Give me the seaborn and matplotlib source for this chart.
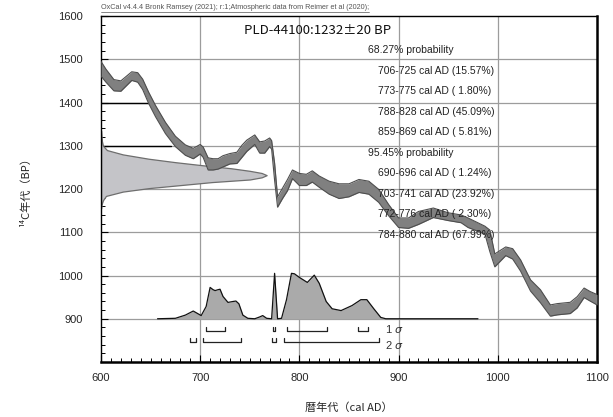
import numpy as np
import pandas as pd
import seaborn as sns
import matplotlib.pyplot as plt
from matplotlib.ticker import MultipleLocator
from matplotlib.lines import Line2D

# calibration curve (IntCal20): year AD, centre BP, half width
curve_year = [600, 605, 613, 620, 631, 637, 642, 648, 655, 665, 675, 685, 693, 700, 703,
              708, 713, 718, 723, 730, 737, 742, 747, 755, 760, 765, 770, 772, 775, 778,
              783, 788, 793, 800, 807, 813, 820, 830, 840, 850, 860, 870, 880, 890, 900,
              910, 920, 935, 950, 963, 970, 987, 992, 997, 1008, 1015, 1023, 1033, 1043,
              1053, 1060, 1073, 1080, 1087, 1093, 1100]
curve_bp = [1478, 1462, 1440, 1438, 1461, 1458, 1442, 1411, 1380, 1341, 1310, 1290, 1282, 1292, 1285,
            1258, 1257, 1258, 1264, 1270, 1272, 1287, 1300, 1314, 1296, 1297, 1308, 1302, 1240, 1170,
            1190, 1209, 1234, 1222, 1221, 1229, 1217, 1203, 1195, 1197, 1207, 1203, 1184, 1151, 1122,
            1121, 1133, 1145, 1136, 1131, 1122, 1105, 1080, 1035, 1056, 1050, 1023, 977, 952,
            919, 922, 925, 938, 960, 952, 944]
curve_err = [17, 15, 13, 12, 10, 11, 12, 13, 13, 13, 12, 12, 12, 11, 12,
             14, 13, 12, 13, 12, 13, 14, 13, 11, 13, 14, 10, 10, 20, 12,
             12, 13, 10, 14, 13, 13, 13, 15, 17, 15, 15, 15, 15, 13, 11,
             12, 15, 11, 9, 9, 11, 9, 25, 15, 10, 12, 13, 13, 15,
             13, 13, 13, 13, 11, 11, 12]

# measured date on the y axis
gauss_bp = [1335, 1320, 1310, 1300, 1290, 1280, 1270, 1262, 1255, 1248, 1242, 1237, 1232,
            1227, 1222, 1216, 1209, 1202, 1194, 1184, 1174, 1164, 1155]
gauss_w = [0, 0.5, 1, 2, 6, 22, 48, 75, 102, 131, 150, 162, 167,
           162, 150, 112, 80, 48, 22, 5, 2, 0.5, 0]

# calibrated distribution (relative)
dist_year = [657, 675, 685, 693, 697, 701, 706, 710, 713, 715, 718, 720, 723, 728, 733, 736,
             739, 743, 748, 755, 760, 763, 767, 772, 775, 778, 782, 787, 792, 795, 800, 808,
             815, 820, 827, 833, 842, 853, 862, 868, 875, 882, 887, 980]
dist_p = [0, 0.01, 0.08, 0.17, 0.12, 0.07, 0.27, 0.69, 0.64, 0.62, 0.64, 0.65, 0.49, 0.36, 0.38, 0.39,
          0.33, 0.08, 0.01, 0, 0.04, 0.07, 0.01, 0, 1.0, 0, 0.01, 0.42, 1.0, 0.99, 0.91, 0.8,
          0.96, 0.78, 0.38, 0.22, 0.18, 0.29, 0.42, 0.42, 0.22, 0.03, 0, 0]

sig1 = [(706, 725), (773, 775), (788, 828), (859, 869)]
sig2 = [(690, 696), (703, 741), (772, 776), (784, 880)]
sig1_text = ["706-725 cal AD (15.57%)", "773-775 cal AD ( 1.80%)",
             "788-828 cal AD (45.09%)", "859-869 cal AD ( 5.81%)"]
sig2_text = ["690-696 cal AD ( 1.24%)", "703-741 cal AD (23.92%)",
             "772-776 cal AD ( 2.30%)", "784-880 cal AD (67.99%)"]

ref_levels = [1400, 1300]
ref_ends = [652, 671]

sns.set_style("ticks")
plt.rcParams['font.family'] = ['Liberation Sans', 'Noto Sans CJK JP', 'DejaVu Sans']
cjk = ['Noto Sans CJK JP', 'DejaVu Sans']

fig = plt.figure(figsize=(6.13, 4.17), dpi=100)
ax = fig.add_axes([101 / 613, 1 - 362 / 417, 496 / 613, 346 / 417])
ax.set_xlim(600, 1100)
ax.set_ylim(800, 1600)

ax.set_axisbelow(True)
for v in range(700, 1100, 100):
    ax.axvline(v, color='#9c9c9c', lw=0.9, zorder=0)
for v in range(900, 1600, 100):
    ax.axhline(v, color='#9c9c9c', lw=0.9, zorder=0)
for lv, end in zip(ref_levels, ref_ends):
    ax.plot([600, end], [lv, lv], color='black', lw=1.0, zorder=1)

# gaussian of the measurement
ax.fill_betweenx(gauss_bp, 600, 600 + np.array(gauss_w), facecolor='#c4c4c8',
                 edgecolor='#6e6e6e', lw=0.9, zorder=2)

# calibration curve band
cdf = pd.DataFrame({"year": curve_year, "bp": curve_bp, "err": curve_err})
cdf["lo"] = cdf["bp"] - cdf["err"]
cdf["hi"] = cdf["bp"] + cdf["err"]
ax.fill_between(cdf["year"], cdf["lo"], cdf["hi"], color='#808080', lw=0, zorder=3)
sns.lineplot(data=cdf, x="year", y="lo", color='#4e4e4e', lw=0.8, ax=ax, zorder=3)
sns.lineplot(data=cdf, x="year", y="hi", color='#4e4e4e', lw=0.8, ax=ax, zorder=3)

# calibrated distribution
base = 900
dist_h = 105
ddf = pd.DataFrame({"year": dist_year, "y": base + np.array(dist_p) * dist_h})
ax.fill_between(ddf["year"], base, ddf["y"], color='#aaaaaa', lw=0, zorder=4)
sns.lineplot(data=ddf, x="year", y="y", color='#111111', lw=0.9, ax=ax, zorder=4)

# range brackets
for ranges, top, bot in [(sig1, 881, 872), (sig2, 856, 847)]:
    for a, b in ranges:
        ax.plot([a, a, b, b], [top, bot, bot, top], color='#222222', lw=0.9, zorder=4)
ax.text(886, 876, r'1 $\sigma$', fontsize=8, color='#333333', va='center')
ax.text(886, 840, r'2 $\sigma$', fontsize=8, color='#333333', va='center')

# text block
ax.text(818, 1567, "PLD-44100:1232\u00b120 BP", fontsize=9.5, ha='center', va='center',
        family=cjk, color='#111111', zorder=6)
step = 47.4
y = 1521
for head, lines in [("68.27% probability", sig1_text), ("95.45% probability", sig2_text)]:
    ax.text(869, y, head, fontsize=7.5, va='center', color='#222222', zorder=6)
    y -= step
    for s in lines:
        ax.text(879, y, s, fontsize=7.5, va='center', color='#222222', zorder=6)
        y -= step

ax.set_xticks(range(600, 1101, 100))
ax.set_yticks(range(900, 1601, 100))
ax.xaxis.set_minor_locator(MultipleLocator(10))
ax.yaxis.set_minor_locator(MultipleLocator(20))
ax.tick_params(which='both', direction='in', top=False, right=False, color='black')
ax.tick_params(which='major', length=5, width=0.8, labelsize=8)
ax.tick_params(axis='x', which='major', pad=8)
ax.tick_params(axis='y', which='major', pad=13)
ax.tick_params(which='minor', length=3, width=0.7)

for s in ['left', 'top']:
    ax.spines[s].set_linewidth(1.0)
for s in ['right', 'bottom']:
    ax.spines[s].set_linewidth(1.8)
for s in ax.spines.values():
    s.set_color('black')

ax.set_xlabel("暦年代（cal AD）", family=cjk, fontsize=8, labelpad=14)
ax.set_ylabel("\u00b9\u2074C年代（BP）", family=cjk, fontsize=8, labelpad=20)

hdr = fig.text(101 / 613, 1 - 9 / 417, "OxCal v4.4.4 Bronk Ramsey (2021); r:1;Atmospheric data from Reimer et al (2020);",
               fontsize=5.2, color='#555555', va='baseline')
fig.canvas.draw()
bb = hdr.get_window_extent()
fig.add_artist(Line2D([bb.x0 / 613, bb.x1 / 613], [(bb.y0 - 1) / 417] * 2,
                      transform=fig.transFigure, color='#555555', lw=0.5))

fig.savefig("out.png", dpi=100)
